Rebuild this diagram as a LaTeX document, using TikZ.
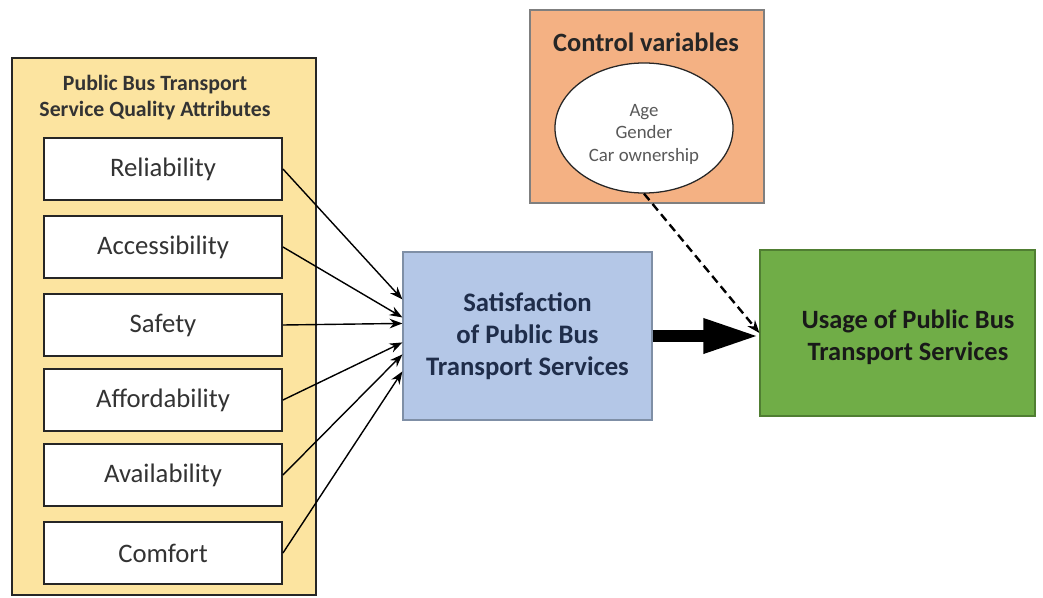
\documentclass[tikz,border=0pt]{standalone}
\usepackage{fontspec}
\setmainfont{Carlito}
\usetikzlibrary{positioning,arrows.meta,calc,shapes.geometric}
\definecolor{attrfill}{HTML}{FCE4A0}
\definecolor{satfill}{HTML}{B4C7E7}
\definecolor{satline}{HTML}{7F8FA6}
\definecolor{sattext}{HTML}{1F2D4A}
\definecolor{usefill}{HTML}{70AD47}
\definecolor{useline}{HTML}{507E32}
\definecolor{ctrlfill}{HTML}{F4B183}
\definecolor{ctrlline}{HTML}{7F7F7F}
\tikzset{
  >={Stealth[length=3.2mm,width=2.4mm]},
  groupbox/.style={draw=black!85,fill=attrfill,line width=1.2pt,
    minimum width=7.6cm,minimum height=13.425cm,inner sep=0pt},
  grouplbl/.style={font=\fontsize{15.5}{18.4}\selectfont\bfseries,align=center,
    text=black!80},
  attr/.style={draw=black!85,fill=white,line width=1.3pt,minimum width=5.95cm,
    minimum height=1.55cm,inner sep=0pt,font=\fontsize{19}{22}\selectfont,
    text=black!80},
  satbox/.style={draw=satline,fill=satfill,line width=0.8pt,minimum width=6.225cm,
    minimum height=4.2cm,align=center,text=sattext,
    font=\fontsize{19}{22.7}\selectfont\bfseries},
  usebox/.style={draw=useline,fill=usefill,line width=0.8pt,minimum width=6.875cm,
    minimum height=4.15cm},
  uselbl/.style={align=center,text=black!90,
    font=\fontsize{18.8}{22.7}\selectfont\bfseries},
  ctrlbox/.style={draw=ctrlline,fill=ctrlfill,line width=0.8pt,minimum width=5.85cm,
    minimum height=4.825cm,inner sep=0pt},
  ctrllbl/.style={font=\fontsize{18.8}{22}\selectfont\bfseries,text=black!85},
  ctrlell/.style={ellipse,draw=black!85,fill=white,line width=0.9pt,
    minimum width=4.45cm,minimum height=3.25cm,inner sep=0pt},
  elllbl/.style={align=center,text=black!65,font=\fontsize{13.4}{16}\selectfont},
  link/.style={->,line width=1pt},
  mainlink/.style={-{Triangle[length=14mm,width=8mm]},line width=8.5pt},
  ctrllink/.style={->,dashed,dash pattern=on 6pt off 3.5pt,line width=1.7pt},
}
\begin{document}
\begin{tikzpicture}[x=0.025cm,y=-0.025cm]
  \useasboundingbox (0,0) rectangle (1043,597);
  % attributes
  \node[groupbox] (grp) at (164,326.5) {};
  \node[grouplbl] (grplbl) at (155,98) {Public Bus Transport\\Service Quality Attributes};
  \foreach \n/\y/\t in {rel/169/Reliability,acc/247/Accessibility,saf/325/Safety,
      aff/400/Affordability,ava/475/Availability,com/553/Comfort} {
    \node[attr] (\n) at (163,\y) {\t};
  }
  % outcome boxes
  \node[satbox] (sat) at (527.5,336) {Satisfaction\\of Public Bus\\Transport Services};
  \node[usebox] (use) at (897.5,333) {};
  \node[uselbl] (uselbl) at (908,337) {Usage of Public Bus\\Transport Services};
  % control variables
  \node[ctrlbox] (ctrl) at (647,106.5) {};
  \node[ctrllbl] (ctrllbl) at (646,42) {Control variables};
  \node[ctrlell] (ell) at (644,128) {};
  \node[elllbl] (elllbl) at (644,134) {Age\\Gender\\Car ownership};
  % connectors
  \foreach \n/\d in {rel/48,acc/66,saf/72,aff/91,ava/103,com/120} {
    \draw[link] (\n.east) -- ($(sat.north west)+(0,\d)$);
  }
  \draw[mainlink] (sat.east) -- (sat.east -| use.west);
  \draw[ctrllink] (ell.south) -- (use.west);
\end{tikzpicture}
\end{document}
